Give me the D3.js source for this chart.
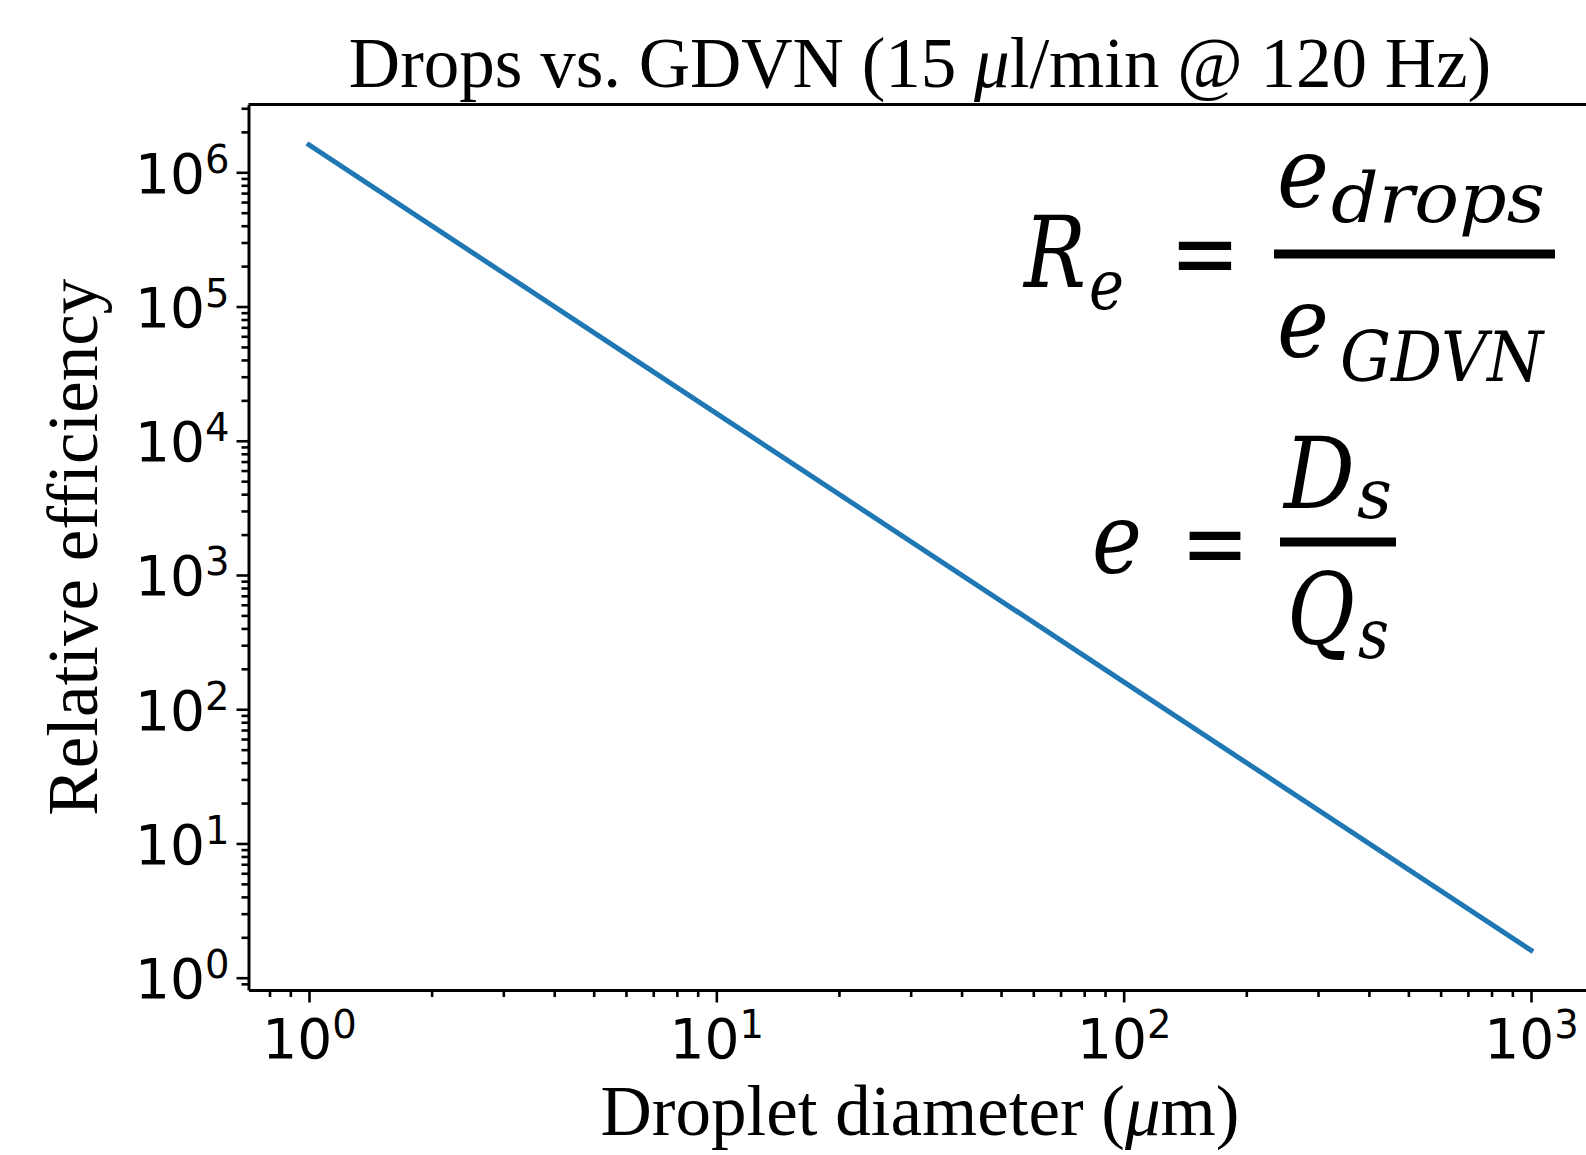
<!DOCTYPE html>
<html>
<head>
<meta charset="utf-8">
<script src="https://cdn.jsdelivr.net/npm/d3@7"></script>
<style>
  body { margin: 0; background: #fff; }
  svg { display: block; }
</style>
</head>
<body>
<div id="chart"></div>
<script>
// values: Re falls as d^-2
var diameters = [1, 10, 100, 1000];
var efficiency = [1.6e6, 1.6e4, 160, 1.6];

var xMajorTicks = [1, 10, 100, 1000];
var yMajorTicks = [1, 10, 100, 1e3, 1e4, 1e5, 1e6];

var titleParts = ['Drops vs. GDVN (15 ', 'μ', 'l/min @ 120 Hz)'];
var xLabelParts = ['Droplet diameter (', 'μ', 'm)'];
var yLabel = 'Relative efficiency';

var W = 1586, H = 1155;
var tickFont = 55;
var labelFont = 71;

var svg = d3.select('#chart').append('svg')
  .attr('width', W).attr('height', H)
  .style('background', '#fff');

var x = d3.scaleLog()
  .domain([Math.pow(10, -0.1485), Math.pow(10, 3.1485)])
  .range([248.5, 1591.5]);
var y = d3.scaleLog()
  .domain([Math.pow(10, -0.0916), Math.pow(10, 6.505)])
  .range([990, 104.5]);

function minorOf(scale, majors) {
  return scale.ticks().filter(function (v) {
    return majors.indexOf(v) < 0;
  });
}

// 10^n label in the style of mathtext
function powLabel(sel) {
  sel.each(function (d) {
    var t = d3.select(this);
    var n = Math.round(Math.log10(d));
    t.text(null);
    t.append('tspan').text('10');
    t.append('tspan')
      .attr('font-size', tickFont * 0.7)
      .attr('dy', -tickFont * 0.36)
      .text(n);
  });
}

function styleAxis(g) {
  g.selectAll('path, line')
    .attr('stroke', '#000')
    .attr('stroke-width', 2.6);
  g.select('.domain').attr('stroke-width', 3);
}

// minor ticks first, then majors on top
var gxMinor = svg.append('g')
  .attr('transform', 'translate(0,990)')
  .call(d3.axisBottom(x).tickValues(minorOf(x, xMajorTicks)).tickSize(7).tickFormat(''));
gxMinor.select('.domain').remove();
styleAxis(gxMinor);

var gyMinor = svg.append('g')
  .attr('transform', 'translate(248.5,0)')
  .call(d3.axisLeft(y).tickValues(minorOf(y, yMajorTicks)).tickSize(7).tickFormat(''));
gyMinor.select('.domain').remove();
styleAxis(gyMinor);

var gx = svg.append('g')
  .attr('transform', 'translate(0,990)')
  .call(d3.axisBottom(x).tickValues(xMajorTicks).tickSize(12.5).tickSizeOuter(0));
styleAxis(gx);
gx.selectAll('.tick text')
  .attr('font-family', 'DejaVu Sans')
  .attr('font-size', tickFont)
  .attr('fill', '#000')
  .attr('y', 0)
  .attr('dy', 68)
  .call(powLabel);

var gy = svg.append('g')
  .attr('transform', 'translate(248.5,0)')
  .call(d3.axisLeft(y).tickValues(yMajorTicks).tickSize(12).tickSizeOuter(0));
styleAxis(gy);
gy.selectAll('.tick text')
  .attr('font-family', 'DejaVu Sans')
  .attr('font-size', tickFont)
  .attr('fill', '#000')
  .attr('x', -19)
  .attr('dy', tickFont * 0.36)
  .call(powLabel);

// top spine (right spine falls outside the canvas)
svg.append('line')
  .attr('x1', x.range()[0]).attr('x2', x.range()[1])
  .attr('y1', y.range()[1]).attr('y2', y.range()[1])
  .attr('stroke', '#000').attr('stroke-width', 3);
svg.append('line')
  .attr('x1', x.range()[1]).attr('x2', x.range()[1])
  .attr('y1', y.range()[0]).attr('y2', y.range()[1])
  .attr('stroke', '#000').attr('stroke-width', 3);

var line = d3.line()
  .x(function (d, i) { return x(diameters[i]); })
  .y(function (d) { return y(d); });

svg.append('path')
  .datum(efficiency)
  .attr('d', line)
  .attr('fill', 'none')
  .attr('stroke', '#1f77b4')
  .attr('stroke-width', 5)
  .attr('stroke-linecap', 'square');

// title and axis labels
function partsText(g, parts) {
  parts.forEach(function (p, i) {
    var ts = g.append('tspan').text(p);
    if (i === 1) ts.attr('font-style', 'italic');
  });
}

var plotMid = (x.range()[0] + x.range()[1]) / 2;

var title = svg.append('text')
  .attr('x', plotMid).attr('y', 87)
  .attr('text-anchor', 'middle')
  .attr('font-family', 'Liberation Serif')
  .attr('font-size', labelFont);
partsText(title, titleParts);

var xl = svg.append('text')
  .attr('x', plotMid).attr('y', 1135)
  .attr('text-anchor', 'middle')
  .attr('font-family', 'Liberation Serif')
  .attr('font-size', labelFont);
partsText(xl, xLabelParts);

svg.append('text')
  .attr('transform', 'translate(97,' + ((y.range()[0] + y.range()[1]) / 2) + ') rotate(-90)')
  .attr('text-anchor', 'middle')
  .attr('font-family', 'Liberation Serif')
  .attr('font-size', labelFont)
  .text(yLabel);

// formula pasted into the plot
var eq = svg.append('g')
  .attr('font-family', 'DejaVu Serif')
  .attr('font-style', 'italic')
  .attr('fill', '#000');

// base letter plus subscript in one text element
// b / s = [text, x, baseline, font size, width]
function eqSub(b, s) {
  var t = eq.append('text');
  [b, s].forEach(function (p) {
    t.append('tspan')
      .attr('x', p[1]).attr('y', p[2])
      .attr('font-size', p[3])
      .attr('textLength', p[4])
      .attr('lengthAdjust', 'spacingAndGlyphs')
      .text(p[0]);
  });
}
function eqText(txt, px, py, fs, len) {
  eq.append('text')
    .attr('x', px).attr('y', py)
    .attr('font-size', fs)
    .attr('textLength', len).attr('lengthAdjust', 'spacingAndGlyphs')
    .text(txt);
}
function eqSign(px, py, len) {
  eq.append('text')
    .attr('x', px).attr('y', py)
    .attr('font-family', 'DejaVu Sans')
    .attr('font-style', 'normal')
    .attr('font-size', 100)
    .attr('textLength', len).attr('lengthAdjust', 'spacingAndGlyphs')
    .text('=');
}
function eqBar(x1, x2, yc) {
  eq.append('rect')
    .attr('x', x1).attr('y', yc - 4.5)
    .attr('width', x2 - x1).attr('height', 9);
}

eqSub(['R', 1024, 287, 100, 62], ['e', 1089, 309, 70, 35]);
eqSign(1170, 287, 70);
eqBar(1274, 1555, 254);
eqSub(['e', 1277, 207, 100, 52], ['drops', 1331, 222, 70, 214]);
eqSub(['e', 1277, 357, 100, 52], ['GDVN', 1340, 381, 70, 203]);

eqText('e', 1092, 573, 100, 50);
eqSign(1181, 577, 68);
eqBar(1280, 1396, 542);
eqSub(['D', 1284, 508, 100, 71], ['s', 1357, 518, 70, 35]);
eqSub(['Q', 1287, 644, 100, 68], ['s', 1358, 658, 70, 31]);
</script>
</body>
</html>
